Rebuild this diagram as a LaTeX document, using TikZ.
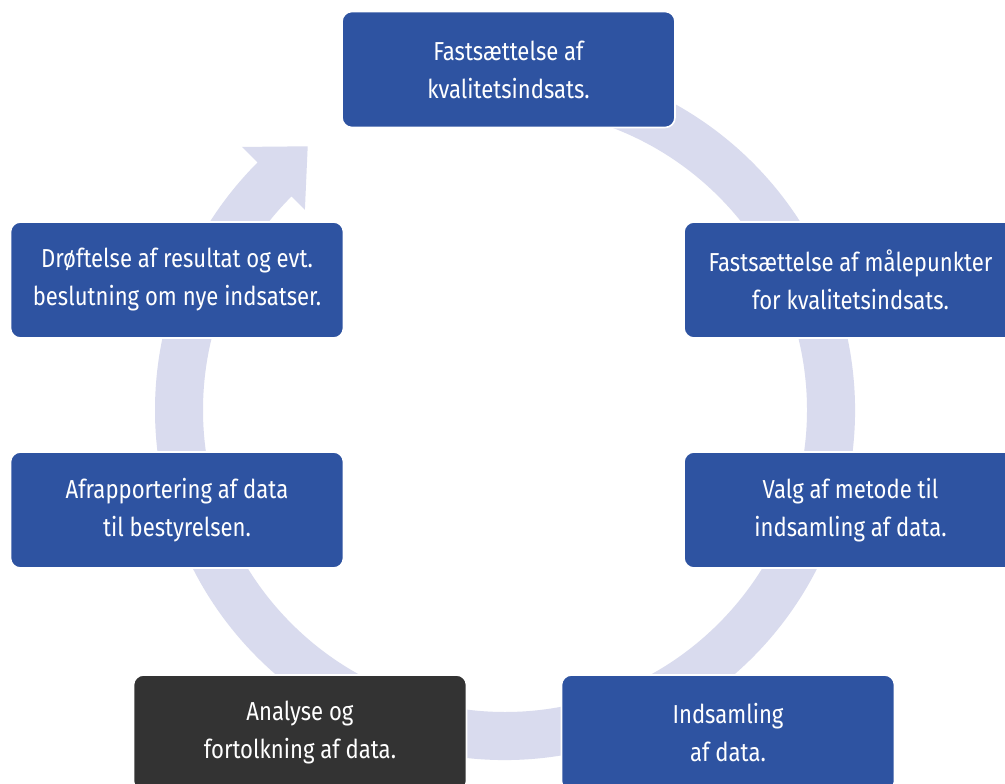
\documentclass[tikz,border=0pt]{standalone}
\usepackage{fontspec}
\setmainfont{Fira Sans}[FakeStretch=0.85]
\definecolor{boxblue}{RGB}{46,83,161}
\definecolor{boxdark}{RGB}{51,51,51}
\definecolor{band}{RGB}{217,219,238}
\tikzset{
  stepbox/.style={rectangle, rounded corners=7.5pt, fill=boxblue, draw=white, line width=1.2pt,
    minimum width=249.75pt, minimum height=87pt, inner sep=0pt, align=center,
    text=white, font=\fontsize{19.5pt}{28.5pt}\selectfont},
  darkbox/.style={stepbox, fill=boxdark}
}
\begin{document}
\begin{tikzpicture}[x=0.75pt,y=0.75pt]
\useasboundingbox (0,0) rectangle (1005,783);
\clip (0,0) rectangle (1005,783);
\fill[white] (0,0) rectangle (1005,783);
% cycle band with arrow head
\begin{scope}[shift={(505,373)}]
\coordinate (wo) at (135:372);
\coordinate (wi) at (135:283);
\coordinate (tip) at (-197.3,263.7);
\fill[band] (100:350) arc[start angle=100, end angle=-225, radius=350]
  -- (wo) -- (tip) -- (wi) -- (135:302)
  arc[start angle=-225, end angle=100, radius=302] -- cycle;
\end{scope}
% boxes
\node[stepbox] (n1) at (508.5,713.5) {Fastsættelse af\\kvalitetsindsats.};
\node[stepbox] (n2) at (850.5,503) {Fastsættelse af målepunkter\\for kvalitetsindsats.};
\node[stepbox] (n3) at (850.5,273) {Valg af metode til\\indsamling af data.};
\node[stepbox] (n4) at (728,50) {Indsamling\\af data.};
\node[darkbox] (n5) at (300,50) {Analyse og\\fortolkning af data.};
\node[stepbox] (n6) at (177,273) {Afrapportering af data\\til bestyrelsen.};
\node[stepbox] (n7) at (177,503) {Drøftelse af resultat og evt.\\beslutning om nye indsatser.};
\end{tikzpicture}
\end{document}
